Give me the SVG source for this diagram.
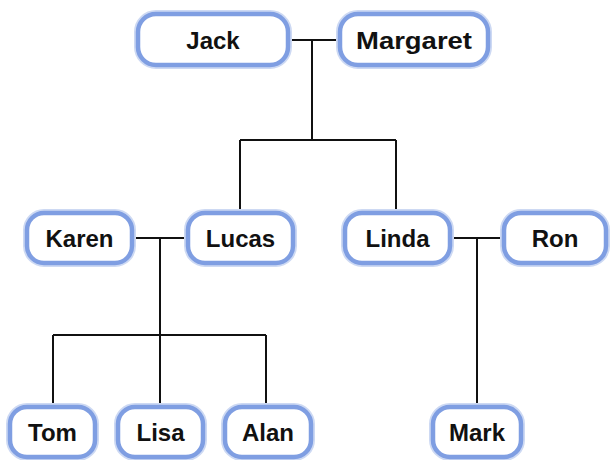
<svg xmlns="http://www.w3.org/2000/svg" width="610" height="460" viewBox="0 0 610 460">
<style>
.box{fill:#ffffff;stroke:#7f9ee2;stroke-width:4.5}
.halo{fill:none;stroke:#cdd9f3;stroke-width:8}
.lbl{font-family:"Liberation Sans",Arial,sans-serif;font-weight:bold;font-size:24px;fill:#111;text-anchor:middle;dominant-baseline:central}
.ln{stroke:#111;stroke-width:2;fill:none}
</style>
<rect width="610" height="460" fill="#ffffff"/>
<g id="connectors">
<path class="ln" d="M288 40H340M312 40V140M240 140H396M240 140V213M396 140V213"/>
<path class="ln" d="M132 238H188M160 238V335M53 335H266M53 335V407M160 335V407M266 335V407"/>
<path class="ln" d="M450 238H504M477 238V407"/>
</g>
<g id="jack"><rect class="halo" x="138" y="14" width="150" height="51" rx="18"/><rect class="box" x="138" y="14" width="150" height="51" rx="18"/><text class="lbl" x="213" y="40">Jack</text></g>
<g id="margaret"><rect class="halo" x="340" y="14" width="148" height="51" rx="18"/><rect class="box" x="340" y="14" width="148" height="51" rx="18"/><text class="lbl" x="414" y="40" textLength="116" lengthAdjust="spacingAndGlyphs">Margaret</text></g>
<g id="karen"><rect class="halo" x="27" y="213" width="105" height="50" rx="17"/><rect class="box" x="27" y="213" width="105" height="50" rx="17"/><text class="lbl" x="79.5" y="238">Karen</text></g>
<g id="lucas"><rect class="halo" x="188" y="213" width="105" height="50" rx="17"/><rect class="box" x="188" y="213" width="105" height="50" rx="17"/><text class="lbl" x="240.5" y="238">Lucas</text></g>
<g id="linda"><rect class="halo" x="345" y="213" width="105" height="50" rx="17"/><rect class="box" x="345" y="213" width="105" height="50" rx="17"/><text class="lbl" x="397.5" y="238">Linda</text></g>
<g id="ron"><rect class="halo" x="504" y="213" width="102" height="50" rx="17"/><rect class="box" x="504" y="213" width="102" height="50" rx="17"/><text class="lbl" x="555" y="238">Ron</text></g>
<g id="tom"><rect class="halo" x="10" y="407" width="85" height="50" rx="17"/><rect class="box" x="10" y="407" width="85" height="50" rx="17"/><text class="lbl" x="52.5" y="432">Tom</text></g>
<g id="lisa"><rect class="halo" x="118" y="407" width="85" height="50" rx="17"/><rect class="box" x="118" y="407" width="85" height="50" rx="17"/><text class="lbl" x="160.5" y="432">Lisa</text></g>
<g id="alan"><rect class="halo" x="225" y="407" width="86" height="50" rx="17"/><rect class="box" x="225" y="407" width="86" height="50" rx="17"/><text class="lbl" x="268" y="432">Alan</text></g>
<g id="mark"><rect class="halo" x="433" y="407" width="88" height="50" rx="17"/><rect class="box" x="433" y="407" width="88" height="50" rx="17"/><text class="lbl" x="477" y="432">Mark</text></g>
</svg>
